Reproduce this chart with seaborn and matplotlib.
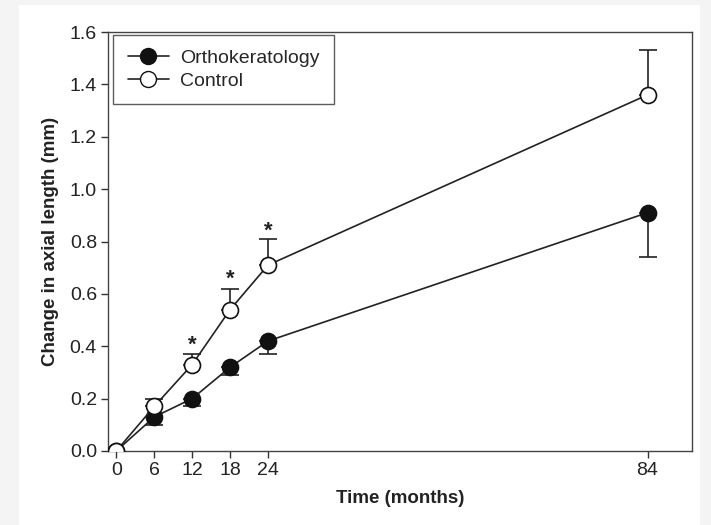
import matplotlib
matplotlib.use("Agg")
import matplotlib.pyplot as plt
import seaborn as sns
import pandas as pd
import numpy as np
from matplotlib.lines import Line2D
from matplotlib.patches import Rectangle

months = [0, 6, 12, 18, 24, 84]
ortho = [0.0, 0.13, 0.20, 0.32, 0.42, 0.91]
ortho_err = [0.0, 0.03, 0.03, 0.03, 0.05, 0.17]
control = [0.0, 0.17, 0.33, 0.54, 0.71, 1.36]
control_err = [0.0, 0.03, 0.04, 0.08, 0.10, 0.17]
star_months = [12, 18, 24]
star_y = [0.405, 0.655, 0.84]

sns.set_theme(style="white")
plt.rcParams['font.family'] = ['Liberation Sans', 'DejaVu Sans']

df = pd.DataFrame({
    "Time": months * 2,
    "Value": ortho + control,
    "Group": ["Orthokeratology"] * len(months) + ["Control"] * len(months),
})

fig = plt.figure(figsize=(7.11, 5.25), dpi=100)
fig.patch.set_facecolor("#f4f4f4")
fig.patches.append(Rectangle((0.027, 0.0), 0.958, 0.99, transform=fig.transFigure,
                             facecolor="white", edgecolor="none", zorder=-5))
ax = fig.add_axes([0.152, 0.141, 0.821, 0.798])
ax.set_facecolor("white")

# error bars (one-sided)
ax.errorbar(months, ortho, yerr=[ortho_err, [0] * len(months)], fmt="none",
            ecolor="#222222", elinewidth=1.2, capsize=6.5, capthick=1.2, zorder=2)
ax.errorbar(months, control, yerr=[[0] * len(months), control_err], fmt="none",
            ecolor="#222222", elinewidth=1.2, capsize=6.5, capthick=1.2, zorder=2)

sns.lineplot(data=df, x="Time", y="Value", hue="Group", style="Group",
             palette={"Orthokeratology": "#222222", "Control": "#222222"},
             markers={"Orthokeratology": "o", "Control": "o"},
             dashes=False, ax=ax, linewidth=1.2, markersize=11.5, legend=False,
             zorder=3)
for line, fc in zip(ax.lines[-2:], ["#111111", "white"]):
    line.set_markerfacecolor(fc)
    line.set_markeredgecolor("#111111")
    line.set_markeredgewidth(1.2)

for m, y in zip(star_months, star_y):
    ax.text(m, y, "*", ha="center", va="center", fontsize=16, fontweight="bold", color="#222222")

handles = [
    Line2D([], [], color="#222222", lw=1.2, marker="o", markersize=11.5,
           markerfacecolor="#111111", markeredgecolor="#111111"),
    Line2D([], [], color="#222222", lw=1.2, marker="o", markersize=11.5,
           markerfacecolor="white", markeredgecolor="#111111"),
]
leg = ax.legend(handles, ["Orthokeratology", "Control"], loc="upper left",
                bbox_to_anchor=(0.009, 0.993), borderaxespad=0, frameon=True, fancybox=False,
                fontsize=14, handlelength=2.1, borderpad=0.75, labelspacing=0.25,
                handletextpad=0.6, edgecolor="#333333")
leg.get_frame().set_linewidth(1.0)

ax.set_xlim(-1.3, 91)
ax.set_ylim(0, 1.6)
ax.set_xticks(months)
yt = np.arange(0, 1.61, 0.2)
ax.set_yticks(yt)
ax.set_yticklabels([f"{v:.1f}" for v in yt])
ax.tick_params(axis="both", direction="out", length=5, width=1, colors="#333333",
               labelsize=14, labelcolor="#222222", bottom=True, left=True, pad=3)
for s in ax.spines.values():
    s.set_color("#444444")
    s.set_linewidth(1.0)
ax.set_xlabel("Time (months)", fontsize=13.5, fontweight="bold", color="#222222", labelpad=8)
ax.set_ylabel("Change in axial length (mm)", fontsize=13.5, fontweight="bold", color="#222222", labelpad=8)

fig.savefig("out.png", dpi=100, facecolor=fig.get_facecolor())
